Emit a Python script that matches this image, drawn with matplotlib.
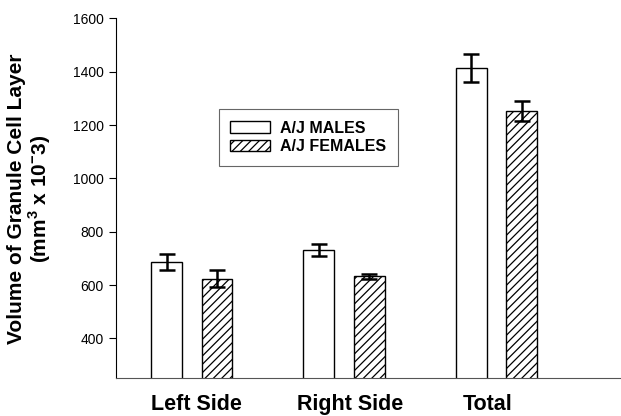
import matplotlib
matplotlib.use("Agg")
import matplotlib.pyplot as plt
import numpy as np
from matplotlib.patches import Patch

categories = ["Left Side", "Right Side", "Total"]
males = [686, 732, 1413]
males_err = [30, 22, 52]
females = [624, 632, 1253]
females_err = [32, 8, 37]
yticks = [400, 600, 800, 1000, 1200, 1400, 1600]

plt.rcParams['font.family'] = ['Liberation Sans', 'DejaVu Sans']
plt.rcParams['mathtext.fontset'] = 'custom'
plt.rcParams['mathtext.bf'] = 'Liberation Sans:bold'
plt.rcParams['mathtext.rm'] = 'Liberation Sans:bold'
plt.rcParams['hatch.linewidth'] = 0.9

fig = plt.figure(figsize=(6.21, 4.16), dpi=100)
ax = fig.add_axes([0.1868, 0.0906, 0.811, 0.865])

x = np.arange(len(categories))
off = 0.1656
w = 0.203
ax.bar(x - off, males, w, color='white', edgecolor='black', linewidth=1.0, zorder=2)
ax.bar(x + off, females, w, color='white', edgecolor='black', linewidth=1.0, hatch='////', zorder=2)
ax.errorbar(x - off, males, yerr=males_err, fmt='none', ecolor='black', elinewidth=1.8, capsize=5.6, capthick=1.8, zorder=3)
ax.errorbar(x + off, females, yerr=females_err, fmt='none', ecolor='black', elinewidth=1.8, capsize=5.6, capthick=1.8, zorder=3)

ax.set_xlim(-0.497, 2.808)
ax.set_ylim(250, 1600)
ax.set_yticks(yticks)
ax.set_yticklabels([str(t) for t in yticks], fontsize=10)
ax.tick_params(axis='y', direction='out', length=5, width=0.8, pad=4)
ax.set_xticks([0.03, 1.04, 1.94])
ax.set_xticklabels(categories, fontsize=15.5, fontweight='bold')
ax.tick_params(axis='x', length=0, pad=11)
for s in ['top', 'right']:
    ax.spines[s].set_visible(False)
ax.spines['left'].set_linewidth(0.8)
ax.spines['bottom'].set_linewidth(0.8)
ax.spines['bottom'].set_color('#555555')

ax.set_ylabel("Volume of Granule Cell Layer\n(mm$^{3}$ x 10$^{-}$3)", fontsize=15, fontweight='bold', labelpad=14, linespacing=1.0)

handles = [Patch(facecolor='white', edgecolor='black', label='A/J MALES'),
           Patch(facecolor='white', edgecolor='black', hatch='////', label='A/J FEMALES')]
leg = ax.legend(handles=handles, loc='upper left', bbox_to_anchor=((219 - 116) / 504, 1 - (109 - 18.3) / 360),
                borderaxespad=0, fancybox=False, edgecolor='#666666', framealpha=1,
                prop={'weight': 'bold', 'size': 11.5},
                handlelength=2.5, handleheight=0.7, labelspacing=0.22, borderpad=0.72, handletextpad=0.6)
leg.get_frame().set_linewidth(0.8)

fig.savefig("out.png", dpi=100)
